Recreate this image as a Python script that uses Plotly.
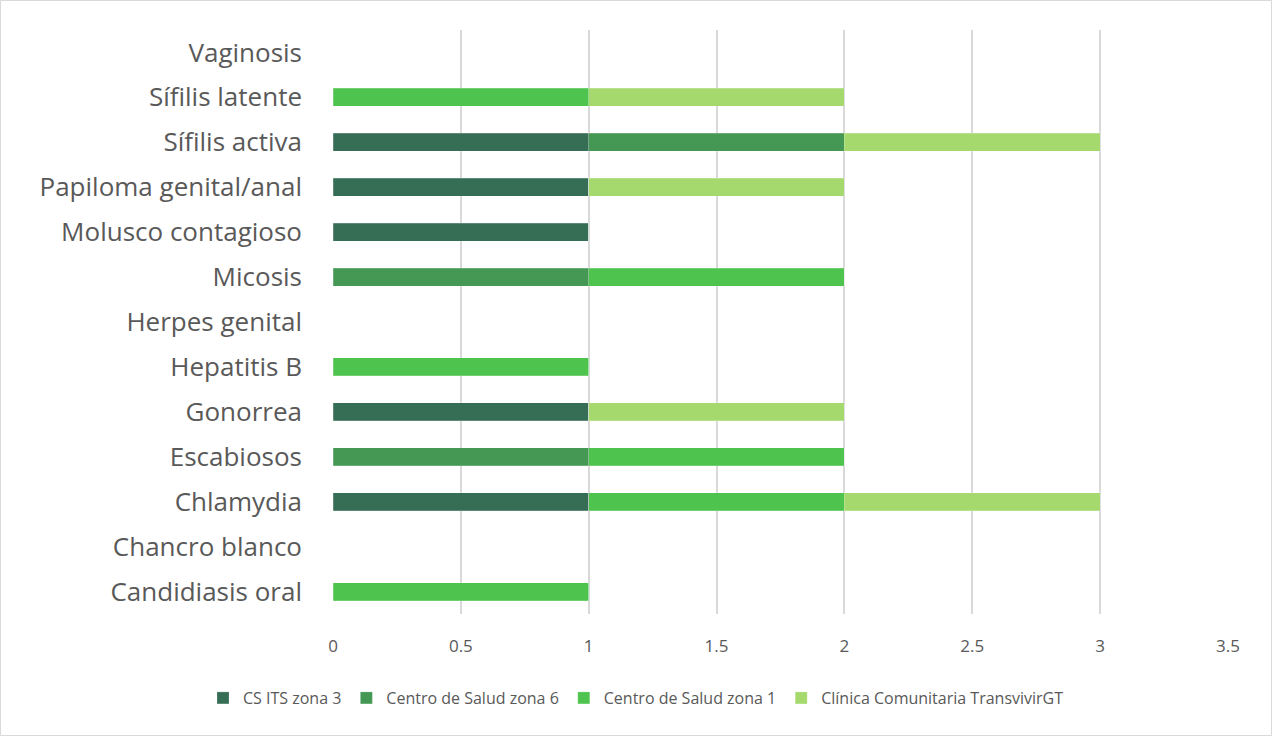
import plotly.graph_objects as go

categories = ["Candidiasis oral", "Chancro blanco", "Chlamydia", "Escabiosos", "Gonorrea",
              "Hepatitis B", "Herpes genital", "Micosis", "Molusco contagioso",
              "Papiloma genital/anal", "Sífilis activa", "Sífilis latente", "Vaginosis"]
series_names = ["CS ITS zona 3", "Centro de Salud zona 6", "Centro de Salud zona 1",
                "Clínica Comunitaria TransvivirGT"]
cs_its_zona3 = [0, 0, 1, 0, 1, 0, 0, 0, 1, 1, 1, 0, 0]
cs_zona6 = [0, 0, 0, 1, 0, 0, 0, 1, 0, 0, 1, 0, 0]
cs_zona1 = [1, 0, 1, 1, 0, 1, 0, 1, 0, 0, 0, 1, 0]
clinica = [0, 0, 1, 0, 1, 0, 0, 0, 0, 1, 1, 1, 0]
colors = ["#356E55", "#449853", "#4EC44E", "#A5D96E"]
x_ticks = [0, 0.5, 1, 1.5, 2, 2.5, 3, 3.5]

W, H = 1272, 736
ml, mr, mt, mb = 333, 44, 30, 122
pw, ph = W - ml - mr, H - mt - mb

fig = go.Figure()
for name, vals, c in zip(series_names, [cs_its_zona3, cs_zona6, cs_zona1, clinica], colors):
    fig.add_trace(go.Bar(y=categories, x=vals, name=name, orientation="h",
                         marker=dict(color=c, line=dict(color="rgba(255,255,255,0.4)", width=0.5))))

fig.update_layout(
    width=W, height=H, barmode="stack", bargap=0.6,
    margin=dict(l=ml, r=mr, t=mt, b=mb),
    paper_bgcolor="white", plot_bgcolor="white",
    font=dict(family="'Open Sans', sans-serif", color="#595959"),
    xaxis=dict(range=[0, 3.5], tickvals=x_ticks, ticktext=[str(t) for t in x_ticks],
               showgrid=True, gridcolor="#D9D9D9", gridwidth=1.5, zeroline=False,
               tickfont=dict(size=17, color="#595959"), ticks="", ticklabelstandoff=20),
    yaxis=dict(categoryorder="array", categoryarray=categories, showgrid=False,
               zeroline=False, tickfont=dict(size=26, color="#595959"), ticks="",
               ticklabelstandoff=30),
    legend=dict(orientation="h", x=0.5, xanchor="center", xref="container",
                y=38 / H, yanchor="middle", yref="container",
                font=dict(size=16, color="#595959"), traceorder="normal",
                itemwidth=30),
    shapes=[dict(type="rect", xref="paper", yref="paper",
                 x0=-(ml - 0.5) / pw, x1=1 + (mr - 0.5) / pw,
                 y0=-(mb - 0.5) / ph, y1=1 + (mt - 0.5) / ph,
                 line=dict(color="#D9D9D9", width=1))],
)
fig.write_html("out.html", config={"displayModeBar": False},
               post_script="document.body.style.margin='0';document.body.style.padding='0';")
